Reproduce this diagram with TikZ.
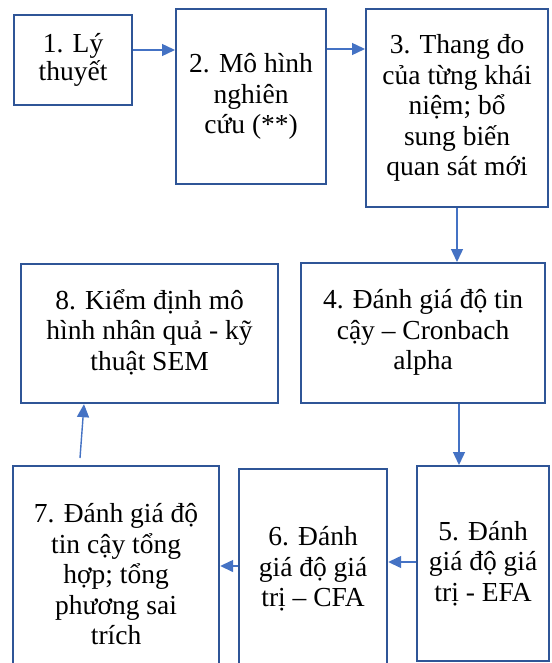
\documentclass[tikz,border=0pt]{standalone}
\usepackage{fontspec}
\setmainfont{Liberation Serif}
\usetikzlibrary{arrows.meta,calc}
\definecolor{boxblue}{HTML}{2F5597}
\definecolor{arrblue}{HTML}{4472C4}
\begin{document}
\begin{tikzpicture}[x=1pt,y=-1pt,
  box/.style={draw=boxblue, line width=2.2pt, rectangle, align=center, inner sep=0pt,
    font=\fontsize{27.5}{30.5}\selectfont, anchor=north west},
  arr/.style={draw=arrblue, line width=1.4pt, -{Triangle[length=13pt,width=12pt]}}]
\clip (0,0) rectangle (551,663);
\fill[white] (0,0) rectangle (551,663);
\node[box, minimum width=118pt, minimum height=90pt, font=\fontsize{27.5}{27.5}\selectfont] (b1) at (13,14) {1. Lý\\thuyết};
\node[box, minimum width=150pt, minimum height=175pt] (b2) at (175,8) {2. Mô hình\\nghiên\\cứu (**)};
\node[box, minimum width=182pt, minimum height=198pt] (b3) at (365,8) {3. Thang đo\\của từng khái\\niệm; bổ\\sung biến\\quan sát mới};
\node[box, minimum width=244pt, minimum height=140pt] (b4) at (300,262) {\raisebox{-4pt}{\begin{tabular}{@{}c@{}}4. Đánh giá độ tin\\cậy – Cronbach\\alpha\end{tabular}}};
\node[box, minimum width=257pt, minimum height=139pt] (b8) at (20,263) {\raisebox{-4pt}{\begin{tabular}{@{}c@{}}8. Kiểm định mô\\hình nhân quả - kỹ\\thuật SEM\end{tabular}}};
\node[box, minimum width=132pt, minimum height=195pt] (b5) at (416,465) {5. Đánh\\giá độ giá\\trị - EFA};
\node[box, minimum width=148pt, minimum height=200pt] (b6) at (238,468) {6. Đánh\\giá độ giá\\trị – CFA};
\node[box, minimum width=206pt, minimum height=216pt] (b7) at (12,465) {7. Đánh giá độ\\tin cậy tổng\\hợp; tổng\\phương sai\\trích};
\draw[arr] (b1.east |- 0,50) -- (b2.west |- 0,50);
\draw[arr] (b2.east |- 0,49) -- (b3.west |- 0,49);
\draw[arr] (b3.south -| 457,0) -- (b4.north -| 457,0);
\draw[arr] (b4.south -| 459,0) -- (b5.north -| 459,0);
\draw[arr] (b5.west |- 0,562) -- (b6.east |- 0,562);
\draw[arr] (b6.west |- 0,566) -- (b7.east |- 0,566);
\coordinate (s7) at (80,458);
\draw[arr] (s7) -- (b8.south -| 84,0);
\end{tikzpicture}
\end{document}
